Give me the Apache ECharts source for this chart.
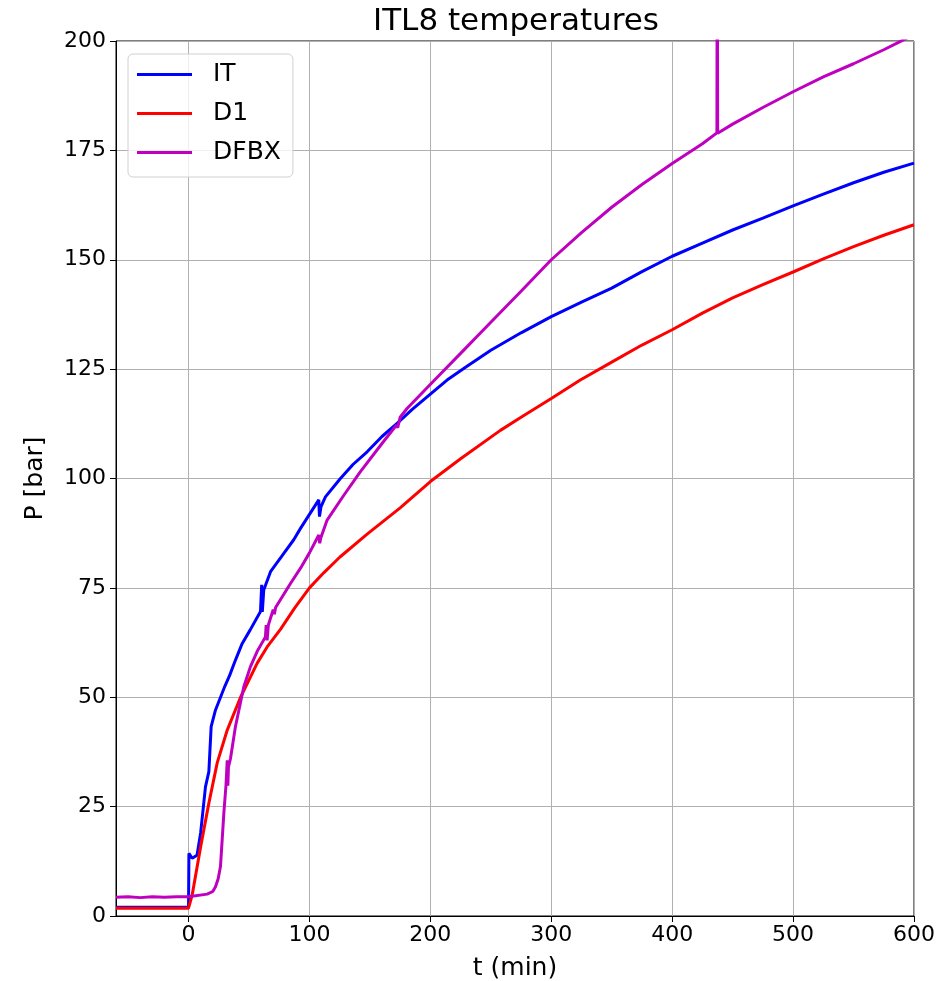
<!DOCTYPE html>
<html>
<head>
<meta charset="utf-8">
<script src="https://cdn.jsdelivr.net/npm/echarts@6/dist/echarts.min.js"></script>
<style>
  html, body { margin: 0; padding: 0; background: #fff; }
  #chart { width: 949px; height: 981px; }
</style>
</head>
<body>
<div id="chart"></div>
<script>
// time in minutes, pressure in bar
const itT = [-60, 0, 0.3, 3, 7, 10, 14, 16.8, 18.7, 22.3, 30, 34, 38.8, 44.4, 51, 59.5, 60.5, 61, 62.2, 67.8, 78.8, 87, 92.6, 100, 107.7, 108.3, 109.5, 113.2, 125.6, 136, 147.7, 160, 172.5, 185, 200, 213.8, 230, 250, 275, 300, 325, 350, 375, 400, 425, 450, 475, 500, 525, 550, 575, 600]
const itP = [2.0, 2.0, 14.3, 13.2, 13.9, 19, 29.5, 33, 43.3, 47.1, 52.5, 55, 58.5, 62.3, 65.4, 69.6, 75.7, 69.5, 74.5, 78.7, 82.9, 86, 88.6, 91.8, 95.1, 91.3, 93.5, 95.8, 100, 103.2, 106.1, 109.6, 112.6, 115.8, 119.3, 122.5, 125.6, 129.3, 133.3, 137, 140.3, 143.5, 147.3, 150.8, 153.8, 156.8, 159.5, 162.3, 165, 167.6, 170, 172.1]

const d1T = [-60, 0, 3, 10, 16.8, 23.7, 32, 43, 56.8, 65, 76, 88, 100, 112, 125, 147.7, 175, 200, 225, 257.9, 275, 300, 324, 350, 375, 400, 425, 450, 475, 500, 525, 550, 575, 600]
const d1P = [1.8, 1.8, 4.8, 15.8, 25.8, 35, 42.5, 50, 57.8, 61.5, 65.5, 70.5, 75, 78.5, 82, 87.3, 93.3, 99.3, 104.5, 111, 114, 118.3, 122.5, 126.6, 130.5, 134, 137.8, 141.3, 144.3, 147.2, 150.2, 153, 155.6, 158]

const dfbxT = [-60, -50, -40, -30, -20, -10, 0, 15.4, 20, 22.3, 24.5, 26.4, 29.2, 31, 32, 32.5, 33, 34.7, 38.8, 45.7, 51.2, 56.8, 63.6, 64.2, 65, 66, 70, 71, 72, 84.3, 92.6, 100, 107.7, 108.5, 109.5, 114.6, 128, 142, 160, 172, 173, 175, 180.7, 202.7, 225, 250, 275, 300, 325, 350, 375, 400, 425, 437, 437.3, 437.6, 450, 475, 500, 525, 550, 575, 588, 600]
const dfbxP = [4.3, 4.4, 4.2, 4.4, 4.3, 4.4, 4.4, 5.0, 5.6, 6.7, 8.5, 11.3, 23.5, 30, 35.6, 29.8, 34, 36, 43.3, 52.4, 57, 60.5, 63.8, 66.5, 63, 66.5, 70, 69, 70.5, 76, 79.5, 83, 87.1, 85.2, 86.5, 90.5, 96, 101.5, 108, 112.2, 111.6, 114, 116, 122.3, 128.6, 135.7, 142.8, 150, 156.2, 162, 167.2, 172, 176.5, 179, 240, 178.9, 181, 184.8, 188.4, 191.8, 194.8, 198, 199.8, 201.5]

const yTicks = [0, 25, 50, 75, 100, 125, 150, 175, 200]

function pairs(ts, ps) {
  return ts.map((t, i) => [t, ps[i]])
}

const font = 'DejaVu Sans'
const chart = echarts.init(document.getElementById('chart'))

chart.setOption({
  animation: false,
  backgroundColor: '#fff',
  title: {
    text: 'ITL8 temperatures',
    left: 511,
    textAlign: 'center',
    top: 1,
    textStyle: { fontFamily: font, fontSize: 31, fontWeight: 'normal', color: '#000' },
  },
  legend: {
    orient: 'vertical',
    left: 128,
    top: 54,
    padding: [8, 12, 12, 9],
    icon: 'rect',
    itemWidth: 55,
    itemHeight: 3,
    itemGap: 14,
    backgroundColor: 'rgba(255,255,255,0.8)',
    borderColor: '#d0d0d0',
    borderWidth: 1,
    borderRadius: 5,
    textStyle: { fontFamily: font, fontSize: 25, color: '#000', padding: [0, 0, 0, 16] },
    data: ['IT', 'D1', 'DFBX'],
  },
  grid: {
    left: 116,
    right: 35,
    top: 41,
    bottom: 65,
    outerBoundsMode: 'none',
    show: true,
    borderColor: '#000',
    borderWidth: 1,
  },
  xAxis: {
    type: 'value',
    min: -60,
    max: 600,
    name: 't (min)',
    nameLocation: 'middle',
    nameGap: 40,
    nameTextStyle: { fontFamily: font, fontSize: 25, color: '#000' },
    axisLine: { show: true, onZero: false, lineStyle: { color: '#000', width: 1 } },
    axisTick: { show: true, inside: false, length: 6, lineStyle: { color: '#000' } },
    axisLabel: {
      showMinLabel: false,
      margin: 8,
      fontFamily: font,
      fontSize: 22,
      color: '#000',
    },
    splitLine: { show: true, lineStyle: { color: '#b0b0b0', width: 1 } },
  },
  yAxis: {
    type: 'value',
    min: yTicks[0],
    max: yTicks[yTicks.length - 1],
    interval: yTicks[1] - yTicks[0],
    name: 'P [bar]',
    nameLocation: 'middle',
    nameGap: 68,
    nameTextStyle: { fontFamily: font, fontSize: 25, color: '#000' },
    axisLine: { show: true, onZero: false, lineStyle: { color: '#000', width: 1 } },
    axisTick: { show: true, inside: false, length: 6, lineStyle: { color: '#000' } },
    axisLabel: { margin: 10, fontFamily: font, fontSize: 22, color: '#000' },
    splitLine: { show: true, lineStyle: { color: '#b0b0b0', width: 1 } },
  },
  series: [
    {
      name: 'IT',
      type: 'line',
      symbol: 'none',
      color: '#0000ff',
      lineStyle: { width: 3 },
      data: pairs(itT, itP),
    },
    {
      name: 'D1',
      type: 'line',
      symbol: 'none',
      color: '#ff0000',
      lineStyle: { width: 3 },
      data: pairs(d1T, d1P),
    },
    {
      name: 'DFBX',
      type: 'line',
      symbol: 'none',
      color: '#bf00bf',
      lineStyle: { width: 3 },
      data: pairs(dfbxT, dfbxP),
    },
  ],
})
</script>
</body>
</html>
